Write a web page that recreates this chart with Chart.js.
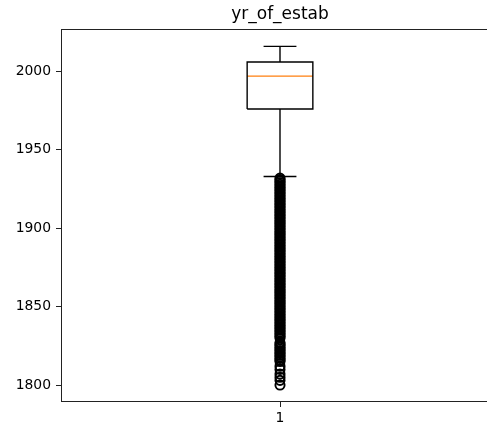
<!DOCTYPE html>
<html>
<head>
<meta charset="utf-8">
<script src="https://cdn.jsdelivr.net/npm/chart.js@4"></script>
<style>
  html, body { margin: 0; padding: 0; background: #fff; }
  #wrap { width: 487px; height: 427px; overflow: hidden; }
</style>
</head>
<body>
<div id="wrap"><canvas id="c" width="520" height="427"></canvas></div>
<script>
// Box plot of the establishment year column
const title = 'yr_of_estab';
const categories = ['1'];
const position = 1;
const boxWidth = 0.15;

// five-number summary (whisker ends, quartiles, median)
const whiskerLow = 1933;
const q1 = 1976;
const median = 1997;
const q3 = 2006;
const whiskerHigh = 2016;

// observations beyond the whiskers
const flierYears = [
  1932, 1931, 1930, 1929, 1928, 1927, 1926, 1925, 1924, 1923, 1922, 1921,
  1920, 1919, 1918, 1917, 1916, 1915, 1914, 1913, 1912, 1911, 1910, 1909,
  1908, 1907, 1906, 1905, 1904, 1903, 1902, 1901, 1900, 1899, 1898, 1897,
  1896, 1895, 1894, 1893, 1892, 1891, 1890, 1889, 1888, 1887, 1886, 1885,
  1884, 1883, 1882, 1881, 1880, 1879, 1878, 1877, 1876, 1875, 1874, 1873,
  1872, 1871, 1870, 1869, 1868, 1867, 1866, 1865, 1864, 1863, 1862, 1861,
  1860, 1859, 1858, 1857, 1856, 1855, 1854, 1853, 1852, 1851, 1850, 1849,
  1848, 1847, 1846, 1845, 1844, 1843, 1842, 1841, 1840, 1839, 1838, 1837,
  1836, 1835, 1834, 1833, 1832, 1831, 1830, 1827, 1826, 1825, 1824, 1823,
  1822, 1821, 1820, 1819, 1818, 1817, 1816, 1815, 1812, 1810, 1807, 1805,
  1803, 1800
];

const yTickValues = [1800, 1850, 1900, 1950, 2000];
const yMin = 1789.2;
const yMax = 2026.8;

// segment coordinates built from the summary values
const half = boxWidth / 2;
const capHalf = boxWidth / 4;
const boxOutline = [
  { x: position - half, y: q1 }, { x: position + half, y: q1 },
  { x: position + half, y: q3 }, { x: position - half, y: q3 },
  { x: position - half, y: q1 }
];
const whiskers = [
  { x: position, y: q3 }, { x: position, y: whiskerHigh }, { x: position, y: null },
  { x: position - capHalf, y: whiskerHigh }, { x: position + capHalf, y: whiskerHigh }, { x: position, y: null },
  { x: position, y: q1 }, { x: position, y: whiskerLow }, { x: position, y: null },
  { x: position - capHalf, y: whiskerLow }, { x: position + capHalf, y: whiskerLow }
];
const medianLine = [
  { x: position - half, y: median }, { x: position + half, y: median }
];
const fliers = flierYears.map(v => ({ x: position, y: v }));

// axes frame (all four spines)
const frame = {
  id: 'frame',
  afterDatasetsDraw(chart) {
    const { ctx, chartArea: a } = chart;
    ctx.save();
    ctx.strokeStyle = '#222';
    ctx.lineWidth = 1;
    ctx.strokeRect(Math.round(a.left) + 0.5, Math.round(a.top) + 0.5,
      Math.round(a.right - a.left) - 1, Math.round(a.bottom - a.top) - 1);
    ctx.restore();
  }
};

new Chart(document.getElementById('c'), {
  type: 'scatter',
  data: {
    datasets: [
      {
        label: 'fliers', data: fliers, showLine: false,
        pointRadius: 4.6, pointBorderWidth: 1.9,
        pointBorderColor: '#000', pointBackgroundColor: 'rgba(0,0,0,0)'
      },
      {
        label: 'whiskers', data: whiskers, showLine: true, spanGaps: false,
        borderColor: '#000', borderWidth: 1.4, pointRadius: 0
      },
      {
        label: 'box', data: boxOutline, showLine: true,
        borderColor: '#000', borderWidth: 1.4, pointRadius: 0
      },
      {
        label: 'median', data: medianLine, showLine: true,
        borderColor: '#ff7f0e', borderWidth: 1.4, pointRadius: 0
      }
    ]
  },
  options: {
    responsive: false,
    animation: false,
    layout: { padding: { left: 0, right: 21, top: 0, bottom: 0 } },
    plugins: {
      legend: { display: false },
      tooltip: { enabled: false },
      title: {
        display: true, text: title, color: '#000', fullSize: false,
        font: { family: 'DejaVu Sans', size: 17, weight: 'normal' },
        padding: { top: 4, bottom: 5 }
      }
    },
    scales: {
      x: {
        type: 'linear', min: 0.5, max: 1.5,
        afterBuildTicks: s => { s.ticks = [{ value: position }]; },
        afterFit: s => { s.height = 25; },
        grid: { drawOnChartArea: false, drawTicks: true, tickLength: 5, color: '#222' },
        border: { display: false },
        ticks: {
          color: '#000', padding: 3,
          font: { family: 'DejaVu Sans', size: 13.9 },
          callback: () => categories[0]
        }
      },
      y: {
        type: 'linear', min: yMin, max: yMax,
        afterBuildTicks: s => { s.ticks = yTickValues.map(v => ({ value: v })); },
        afterFit: s => { s.width = 61; },
        grid: { drawOnChartArea: false, drawTicks: true, tickLength: 5, color: '#222' },
        border: { display: false },
        ticks: {
          color: '#000', padding: 5,
          font: { family: 'DejaVu Sans', size: 13.9 },
          callback: v => String(v)
        }
      }
    }
  },
  plugins: [frame]
});
</script>
</body>
</html>
